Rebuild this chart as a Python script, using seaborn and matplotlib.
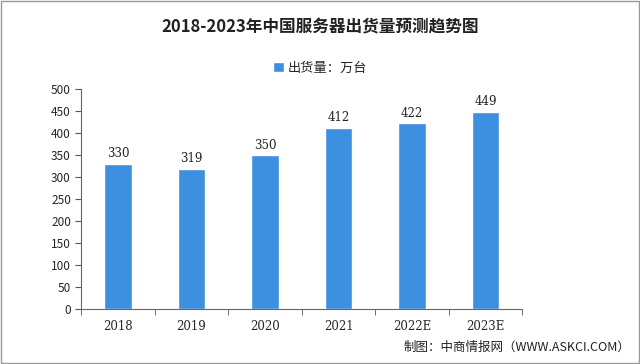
import pandas as pd
import numpy as np
import seaborn as sns
import matplotlib.pyplot as plt
from matplotlib.ticker import FixedLocator, NullFormatter

# dane
lata = ["2018", "2019", "2020", "2021", "2022E", "2023E"]
wartosci = [330, 319, 350, 412, 422, 449]

sns.set_style("ticks")
plt.rcParams['font.family'] = ['Noto Sans CJK SC', 'DejaVu Sans']

df = pd.DataFrame({"Rok": lata, "Wartosc": wartosci})

fig = plt.figure(figsize=(6.4, 3.64), dpi=100)
ax = fig.add_axes([0.127, 0.151, 0.689, 0.604])

sns.barplot(data=df, x="Rok", y="Wartosc", color="#3d8fe0", width=0.37,
            saturation=1, ax=ax, label="出货量：万台")

for i, v in enumerate(wartosci):
    ax.text(i, v + 8, str(v), ha="center", va="bottom", fontsize=8.5,
            family=["DejaVu Serif"], color="#222222")

ax.set_ylim(0, 500)
ax.set_yticks(range(0, 501, 50))
ax.set_xlim(-0.5, len(lata) - 0.5)
ax.set_xlabel("")
ax.set_ylabel("")

# ticki osi x na granicach kategorii
ax.tick_params(axis="x", which="major", length=0, pad=8, labelsize=8.5)
ax.xaxis.set_minor_locator(FixedLocator(np.arange(-0.5, len(lata), 1)))
ax.xaxis.set_minor_formatter(NullFormatter())
ax.tick_params(axis="x", which="minor", length=4, color="#555555")
ax.tick_params(axis="y", length=4, labelsize=8.5, color="#555555")
for lab in ax.get_xticklabels():
    lab.set_family(["DejaVu Serif"])

sns.despine(ax=ax)
ax.spines["left"].set_color("#666666")
ax.spines["bottom"].set_color("#666666")

fig.text(0.5, 0.925, "2018-2023年中国服务器出货量预测趋势图", ha="center",
         va="center", fontsize=12, fontweight="bold", color="#222222")
leg = fig.legend(loc="center", bbox_to_anchor=(0.5, 0.812), frameon=False,
                 fontsize=9.5, handlelength=0.8, handleheight=0.8,
                 handletextpad=0.3)
ax.get_legend() and ax.get_legend().remove()

fig.text(0.985, 0.045, "制图：中商情报网（WWW.ASKCI.COM）", ha="right",
         va="center", fontsize=9, color="#222222")

# ramka
fig.patches.append(plt.Rectangle((0.002, 0.003), 0.996, 0.994, fill=False,
                                 edgecolor="#999999", linewidth=1,
                                 transform=fig.transFigure))

fig.savefig("out.png", dpi=100)
